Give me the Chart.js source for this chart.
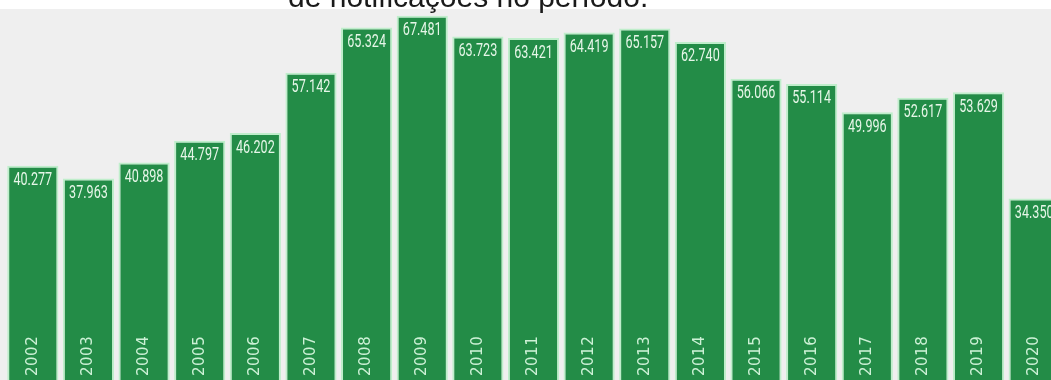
<!DOCTYPE html>
<html>
<head>
<meta charset="utf-8">
<script src="https://cdn.jsdelivr.net/npm/chart.js@4"></script>
<style>
  html, body { margin: 0; padding: 0; overflow: hidden; background: #fff; }
  #wrap { position: absolute; left: 0; top: 0; }
</style>
</head>
<body>
<div id="wrap"><canvas id="bars" width="1062" height="388"></canvas></div>
<script>
let anos = ["2002", "2003", "2004", "2005", "2006", "2007", "2008", "2009", "2010",
  "2011", "2012", "2013", "2014", "2015", "2016", "2017", "2018", "2019", "2020"];

let notificacoes = [40277, 37963, 40898, 44797, 46202, 57142, 65324, 67481, 63723,
  63421, 64419, 65157, 62740, 56066, 55114, 49996, 52617, 53629, 34350];

const titulo = "de notificações no período.";

function milhar(v) {
  return String(v).replace(/\B(?=(\d{3})+(?!\d))/g, ".");
}

// fundo cinza, titulo e os rotulos dentro das barras
const rotulos = {
  id: "rotulos",
  beforeDraw(chart) {
    const ctx = chart.ctx;
    ctx.save();
    ctx.fillStyle = "#efefef";
    ctx.fillRect(0, chart.chartArea.top, chart.width, chart.height);
    ctx.restore();
  },
  afterDraw(chart) {
    const ctx = chart.ctx;
    const x = chart.scales.x;
    const y = chart.scales.y;
    ctx.save();
    ctx.fillStyle = "#1a1a1a";
    ctx.font = "30px 'Liberation Sans', Arial, sans-serif";
    ctx.textBaseline = "alphabetic";
    ctx.fillText(titulo, 288, 7);

    notificacoes.forEach((v, i) => {
      const cx = x.getPixelForValue(i);
      const topo = y.getPixelForValue(v);
      // valor, fonte estreita
      ctx.save();
      ctx.translate(cx, topo + 15);
      ctx.scale(0.7, 1);
      ctx.fillStyle = "#e6f6e8";
      ctx.font = "18px Roboto, sans-serif";
      ctx.textAlign = "center";
      ctx.textBaseline = "middle";
      ctx.fillText(milhar(v), 0, 0);
      ctx.restore();
      // ano na base, girado
      ctx.save();
      ctx.translate(cx, 376);
      ctx.rotate(-Math.PI / 2);
      ctx.fillStyle = "#cdf1d6";
      ctx.font = "15px 'DejaVu Sans', sans-serif";
      ctx.letterSpacing = "0.5px";
      ctx.textAlign = "left";
      ctx.textBaseline = "middle";
      ctx.fillText(anos[i], 0, 0);
      ctx.restore();
    });
    ctx.restore();
  }
};

new Chart("bars", {
  type: "bar",
  data: {
    labels: anos,
    datasets: [
      {
        data: notificacoes,
        backgroundColor: "#238c47",
        borderColor: "#bfeecb",
        borderWidth: 2,
        borderSkipped: "bottom",
        barPercentage: 0.92,
        categoryPercentage: 1,
      },
    ],
  },
  options: {
    responsive: false,
    animation: false,
    devicePixelRatio: 1,
    layout: { padding: { left: 5, top: 9, right: 0, bottom: 0 } },
    plugins: {
      legend: { display: false },
      tooltip: { enabled: false },
    },
    scales: {
      x: { display: false },
      y: { display: false, min: 0, max: 68700 },
    },
  },
  plugins: [rotulos],
});
</script>
</body>
</html>
